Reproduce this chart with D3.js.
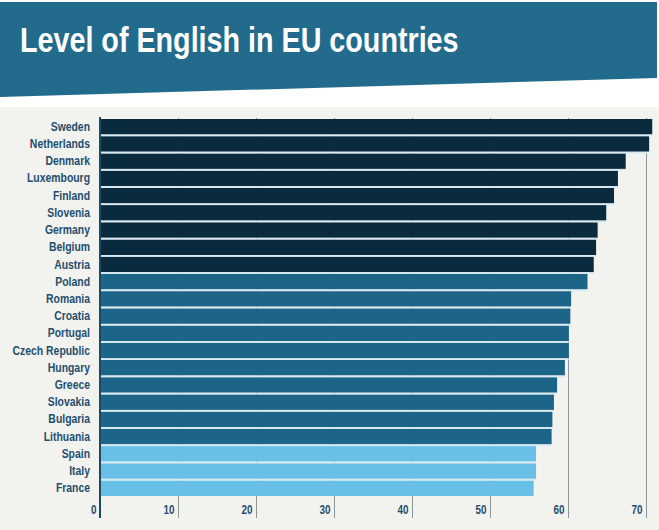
<!DOCTYPE html>
<html>
<head>
<meta charset="utf-8">
<script src="https://cdn.jsdelivr.net/npm/d3@7"></script>
<style>
  body { margin: 0; background: #fff; }
  svg text { font-family: "Liberation Sans", Arial, sans-serif; font-weight: bold; }
</style>
</head>
<body>
<script>
'use strict';

// data
var countries = ['Sweden', 'Netherlands', 'Denmark', 'Luxembourg', 'Finland', 'Slovenia',
  'Germany', 'Belgium', 'Austria', 'Poland', 'Romania', 'Croatia', 'Portugal',
  'Czech Republic', 'Hungary', 'Greece', 'Slovakia', 'Bulgaria', 'Lithuania',
  'Spain', 'Italy', 'France'];
var scores = [70.8, 70.4, 67.4, 66.4, 65.9, 64.9, 63.8, 63.6, 63.3, 62.5, 60.4, 60.3, 60.1,
  60.1, 59.6, 58.6, 58.2, 58.0, 57.9, 55.9, 55.9, 55.6];
var groups = ['high', 'high', 'high', 'high', 'high', 'high', 'high', 'high', 'high',
  'mid', 'mid', 'mid', 'mid', 'mid', 'mid', 'mid', 'mid', 'mid', 'mid',
  'low', 'low', 'low'];
var ticks = [0, 10, 20, 30, 40, 50, 60, 70];
var title = 'Level of English in EU countries';

var W = 659, H = 530;
var margin = { top: 119, right: 6, bottom: 33, left: 100 };

// no narrow font installed, so squeeze the glyphs
function condense(sel, k) {
  sel.each(function () {
    var w = this.getComputedTextLength();
    d3.select(this).attr('textLength', w * k).attr('lengthAdjust', 'spacingAndGlyphs');
  });
}

var svg = d3.select('body').append('svg')
  .attr('width', W)
  .attr('height', H);

// header band with slanted bottom
svg.append('rect').attr('x', 0).attr('y', 107).attr('width', W).attr('height', H - 107).attr('fill', '#f2f2ee');
svg.append('path')
  .attr('d', 'M0,2 L657,2 L657,78 L0,97 Z')
  .attr('fill', '#226b8c');
svg.append('text')
  .attr('x', 20).attr('y', 52)
  .attr('fill', '#fff')
  .style('font-size', '35px')
  .text(title)
  .call(condense, 0.82);

var data = countries.map(function (c, i) { return { name: c, value: scores[i], group: groups[i] }; });

var x = d3.scaleLinear().domain([0, 70]).range([margin.left, margin.left + 546]);
var y = d3.scaleBand().domain(countries).range([margin.top, H - margin.bottom - 1]).paddingInner(0.1).paddingOuter(0);
var color = d3.scaleOrdinal().domain(['high', 'mid', 'low']).range(['#0a2a3d', '#1c6588', '#69c0e6']);

// grid lines + tick labels
var xAxis = d3.axisBottom(x).tickValues(ticks).tickSize(-(H - 12 - 118)).tickPadding(0);
var gx = svg.append('g')
  .attr('transform', 'translate(0,' + (H - 12) + ')')
  .call(xAxis);
gx.select('.domain').remove();
gx.selectAll('.tick line').attr('stroke', '#8c949a').attr('stroke-width', 1);
gx.selectAll('.tick text')
  .attr('text-anchor', 'end')
  .attr('x', -4)
  .attr('y', -4)
  .attr('dy', 0)
  .attr('fill', '#1f4e6e')
  .style('font-size', '12px')
  .style('font-family', '"Liberation Sans", Arial, sans-serif')
  .call(condense, 0.82);

// bars
svg.selectAll('.bar')
  .data(data)
  .enter().append('rect')
  .attr('class', 'bar')
  .attr('x', x(0))
  .attr('y', function (d) { return y(d.name); })
  .attr('width', function (d) { return x(d.value) - x(0); })
  .attr('height', y.bandwidth())
  .attr('fill', function (d) { return color(d.group); });

// separators between bars look lighter than the background
svg.selectAll('.gap')
  .data(data.slice(1))
  .enter().append('rect')
  .attr('x', x(0))
  .attr('y', function (d) { return y(d.name) - y.step() * y.paddingInner(); })
  .attr('width', function (d, i) { return Math.max(x(d.value), x(data[i].value)) - x(0); })
  .attr('height', y.step() * y.paddingInner())
  .attr('fill', '#d9eaf2');

// category labels
var yAxis = d3.axisLeft(y).tickSize(0).tickPadding(10);
var gy = svg.append('g')
  .attr('transform', 'translate(' + x(0) + ',0)')
  .call(yAxis);
gy.select('.domain').remove();
gy.selectAll('.tick text')
  .attr('fill', '#1f4e6e')
  .style('font-size', '12.7px')
  .style('font-family', '"Liberation Sans", Arial, sans-serif')
  .call(condense, 0.82);

// vertical baseline
svg.append('line')
  .attr('x1', x(0)).attr('x2', x(0))
  .attr('y1', 117).attr('y2', H - 12)
  .attr('stroke', '#1b4a66')
  .attr('stroke-width', 2);
</script>
</body>
</html>
